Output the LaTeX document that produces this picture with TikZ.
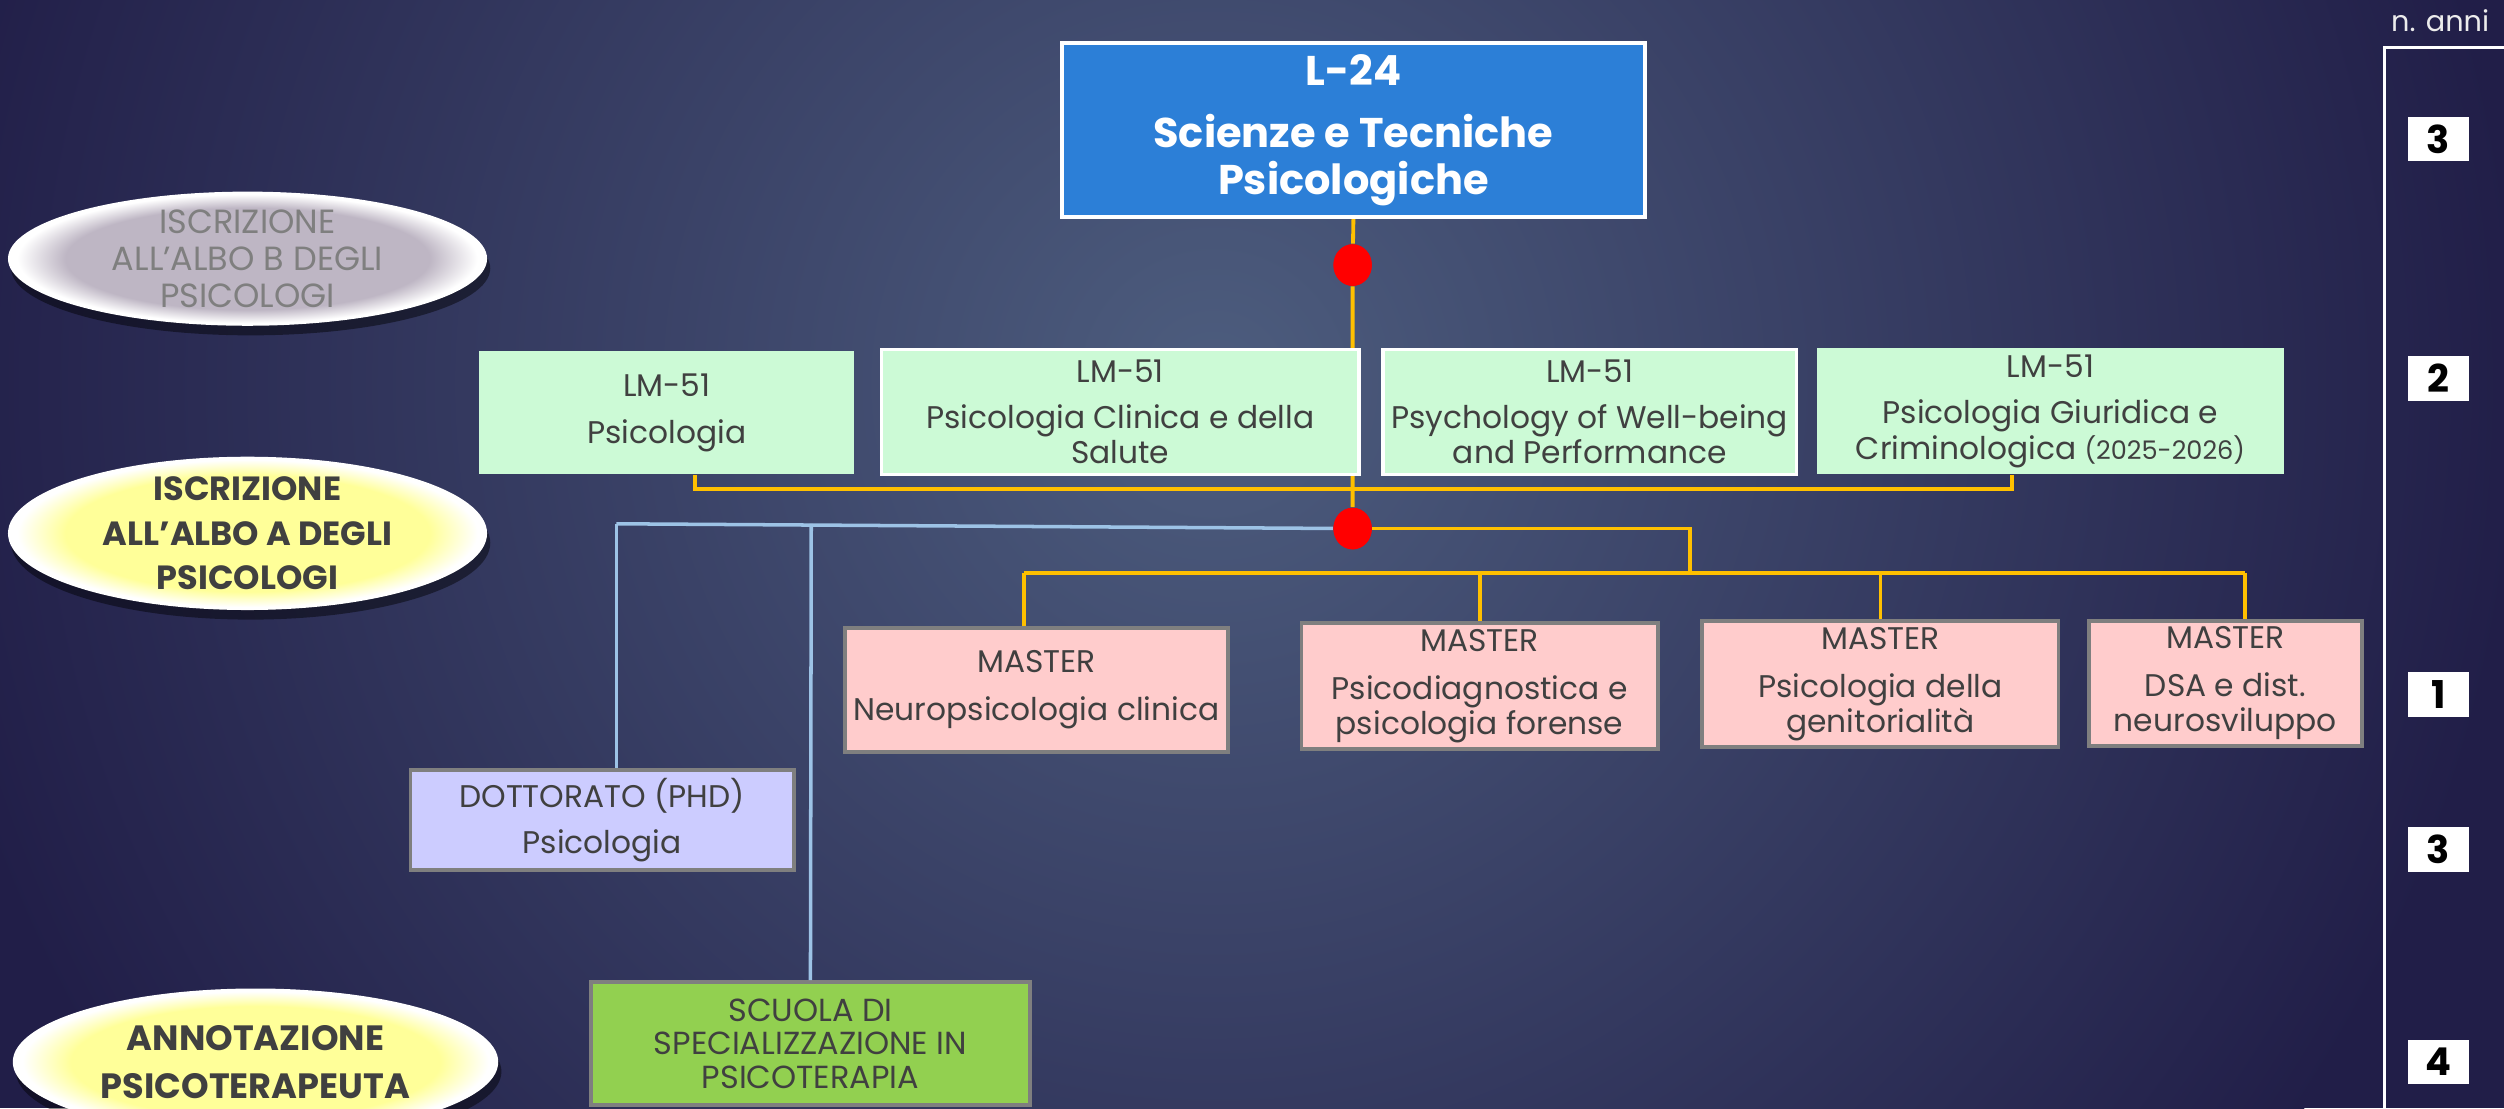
\documentclass[tikz,border=0pt]{standalone}
\usepackage{fontspec}
\setmainfont{Poppins}
\usetikzlibrary{shapes.geometric,shadows}

\definecolor{bgdark}{HTML}{211E48}
\definecolor{bglight}{HTML}{4D5D7E}
\definecolor{l24blue}{HTML}{2C7FD7}
\definecolor{lmgreen}{HTML}{CCFAD6}
\definecolor{masterpink}{HTML}{FFCCCC}
\definecolor{phdlilac}{HTML}{CCCCFF}
\definecolor{scuolagreen}{HTML}{92D050}
\definecolor{boxgray}{HTML}{7F7F7F}
\definecolor{txtgray}{HTML}{404040}
\definecolor{linkyellow}{HTML}{FFC000}
\definecolor{linkblue}{HTML}{9DC3E6}
\definecolor{albogray}{HTML}{BEB6C4}
\definecolor{alboyellow}{HTML}{FFFF99}

\pgfdeclareradialshading{albobshade}{\pgfpoint{0bp}{0bp}}{color(0bp)=(albogray); color(19bp)=(albogray); color(24bp)=(white); color(50bp)=(white)}
\pgfdeclareradialshading{alboashade}{\pgfpoint{0bp}{0bp}}{color(0bp)=(alboyellow); color(19bp)=(alboyellow); color(24bp)=(white); color(50bp)=(white)}

\begin{document}
\begin{tikzpicture}[x=0.5pt, y=-0.5pt,
    l24box/.style={rectangle,draw=white,line width=1.2pt,fill=l24blue,text=white,align=center,inner sep=0pt,
        font=\bfseries\fontsize{13}{14.5}\selectfont},
    lmbox/.style={rectangle,fill=lmgreen,text=txtgray,align=center,inner sep=0pt,
        font=\fontsize{9.8}{11}\selectfont},
    masterbox/.style={rectangle,draw=boxgray,line width=1.2pt,fill=masterpink,text=txtgray,align=center,inner sep=0pt,
        font=\fontsize{9.8}{11}\selectfont},
    reddot/.style={ellipse,fill=red,minimum width=12pt,minimum height=13pt,inner sep=0pt},
    yline/.style={draw=linkyellow,line width=1.2pt},
    bline/.style={draw=linkblue,line width=1.1pt},
    albo/.style={ellipse,inner sep=0pt,drop shadow={shadow xshift=1pt,shadow yshift=-3pt,opacity=0.45,fill=black}},
    yearbox/.style={rectangle,fill=white,minimum width=19pt,minimum height=14pt,inner sep=0pt,
        font=\bfseries\fontsize{12}{12}\selectfont}]

\useasboundingbox (0,0) rectangle (1568,694);

% background
\begin{scope}
\clip (0,0) rectangle (1568,694);
\fill[bgdark] (0,0) rectangle (1568,694);
\shade[inner color=bglight,outer color=bgdark] (760,240) circle (820);
\end{scope}

% top degree
\node[l24box,minimum width=182.5pt,minimum height=54.5pt] (l24) at (847.5,81.5)
    {L-24\\[5pt] Scienze e Tecniche\\ Psicologiche};

\node[reddot] (dot1) at (847,166) {};
\node[reddot] (dot2) at (847,331) {};

% junction points
\coordinate (jA) at (435,306);
\coordinate (jD) at (1260,306);
\coordinate (drop) at (1058,359);
\coordinate (busL) at (641,359);
\coordinate (busR) at (1406,359);
\coordinate (blueL) at (386,328);
\coordinate (blueM) at (508,328);

% yellow links
\draw[yline] (l24.south) -- (dot1) -- (dot2);
\draw[yline] (dot2) -| (drop);
\draw[yline] (busL) -- (busR);

% blue links
\draw[bline] (dot2) -- (blueL);

% LM-51 row
\node[lmbox,minimum width=117.5pt,minimum height=38.5pt] (lmA) at (417.5,258.5)
    {LM-51\\[3.5pt] Psicologia};
\node[lmbox,draw=white,line width=1pt,minimum width=149.5pt,minimum height=39pt] (lmB) at (701.5,258)
    {LM-51\\[3.5pt] Psicologia Clinica e della\\ Salute};
\node[lmbox,draw=white,line width=1pt,minimum width=129.5pt,minimum height=39pt] (lmC) at (995.5,258)
    {LM-51\\[3.5pt] Psychology of Well-being\\ and Performance};
\node[lmbox,minimum width=146pt,minimum height=39.5pt] (lmD) at (1284,257.5)
    {LM-51\\[3.5pt] Psicologia Giuridica e\\ Criminologica {\fontsize{8}{11}\selectfont(2025-2026)}};

\draw[yline] (lmA.south -| jA) -- (jA) -- (jD) -- (lmD.south -| jD);

% masters
\node[masterbox,minimum width=120pt,minimum height=39pt] (m1) at (649,432)
    {MASTER\\[4pt] Neuropsicologia clinica};
\node[masterbox,minimum width=111.5pt,minimum height=39.5pt] (m2) at (926.5,429.5)
    {MASTER\\[4pt] Psicodiagnostica e\\ psicologia forense};
\node[masterbox,minimum width=111.5pt,minimum height=39.5pt] (m3) at (1177.5,428.5)
    {MASTER\\[4pt] Psicologia della\\ genitorialità};
\node[masterbox,minimum width=85.5pt,minimum height=39pt] (m4) at (1393.5,428)
    {MASTER\\[4pt] DSA e dist.\\ neurosviluppo};

\draw[yline] (busL) -- (m1.north -| busL);
\draw[yline] (m2.north |- busL) -- (m2.north);
\draw[yline] (m3.north |- busL) -- (m3.north);
\draw[yline] (busR) -- (m4.north -| busR);

% phd and school
\node[masterbox,fill=phdlilac,minimum width=120pt,minimum height=31.5pt] (phd) at (377,513.5)
    {DOTTORATO (PHD)\\[3.5pt] Psicologia};
\node[masterbox,fill=scuolagreen,minimum width=137.5pt,minimum height=38.5pt,
    font=\fontsize{10}{10.5}\selectfont] (scuola) at (507.5,653.5)
    {SCUOLA DI\\ SPECIALIZZAZIONE IN\\ PSICOTERAPIA};

\draw[bline] (blueL) -- (phd.north -| blueL);
\draw[bline] (blueM) -- (scuola.north);

% dots on top of the lines
\node[reddot] at (dot1) {};
\node[reddot] at (dot2) {};

% albo ellipses
\node[albo,shading=albobshade,minimum width=150pt,minimum height=42pt] (alboB) at (155,162) {};
\node[text=boxgray,align=center,font=\fontsize{10.5}{11.5}\selectfont] (alboBtext) at (alboB.center)
    {ISCRIZIONE\\ ALL’ALBO B DEGLI\\ PSICOLOGI};
\node[albo,shading=alboashade,minimum width=150pt,minimum height=48pt] (alboA) at (155,334) {};
\node[text=txtgray,align=center,font=\bfseries\fontsize{10.5}{14}\selectfont] (alboAtext) at (alboA.center)
    {ISCRIZIONE\\ ALL’ALBO A DEGLI\\ PSICOLOGI};
\node[albo,shading=alboashade,minimum width=152pt,minimum height=46pt] (psico) at (160,665) {};
\node[text=txtgray,align=center,font=\bfseries\fontsize{11}{15}\selectfont] (psicotext) at (psico.center)
    {ANNOTAZIONE\\ PSICOTERAPEUTA};

% years column
\coordinate (brTop) at (1568,30);
\coordinate (brCorner) at (1493,30);
\coordinate (brBottom) at (1493,694);
\draw[white,line width=1pt] (brTop) -- (brCorner) -- (brBottom);
\node[text=white!85!gray,font=\fontsize{9}{9}\selectfont] (anni) at (1528,13) {n. anni};

\node[yearbox] (y1) at (1527,87) {3};
\node[yearbox] (y2) at (1527,237) {2};
\node[yearbox] (y3) at (1527,435) {1};
\node[yearbox] (y4) at (1527,532) {3};
\node[yearbox] (y5) at (1527,665) {4};

\end{tikzpicture}
\end{document}
